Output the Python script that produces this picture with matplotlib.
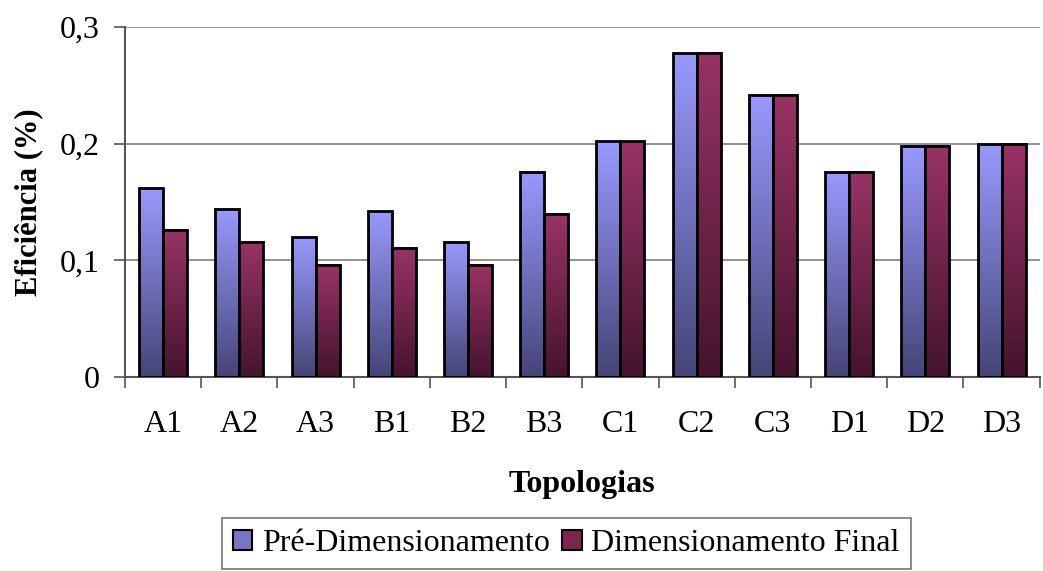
import numpy as np
import matplotlib.pyplot as plt
from matplotlib.colors import LinearSegmentedColormap
from matplotlib.patches import Patch

plt.rcParams['font.family'] = ['Liberation Serif', 'DejaVu Serif']

topologias = ['A1', 'A2', 'A3', 'B1', 'B2', 'B3', 'C1', 'C2', 'C3', 'D1', 'D2', 'D3']
pre_dim = [0.162, 0.144, 0.120, 0.142, 0.116, 0.176, 0.202, 0.278, 0.242, 0.176, 0.198, 0.200]
dim_final = [0.126, 0.116, 0.096, 0.111, 0.096, 0.140, 0.202, 0.278, 0.242, 0.176, 0.198, 0.200]

cmap_blue = LinearSegmentedColormap.from_list('b', ['#454577', '#9999FF'])
cmap_red = LinearSegmentedColormap.from_list('r', ['#45142D', '#993366'])

fig = plt.figure(figsize=(10.43, 5.71), dpi=100)
ax = fig.add_axes([0.1198, 0.3397, 0.877, 0.6130])

x = np.arange(len(topologias))
w = 0.315
grad = np.linspace(0, 1, 256).reshape(-1, 1)


def grad_bars(xpos, vals, cmap):
    bars = ax.bar(xpos, vals, w, facecolor='none', edgecolor='black', linewidth=2.0, zorder=3)
    for b in bars:
        x0, y0 = b.get_x(), b.get_y()
        ax.imshow(grad, cmap=cmap, origin='lower', aspect='auto',
                  extent=[x0, x0 + b.get_width(), y0, y0 + b.get_height()], zorder=2)


grad_bars(x - w / 2, pre_dim, cmap_blue)
grad_bars(x + w / 2, dim_final, cmap_red)

ax.set_xlim(-0.5, len(topologias) - 0.5)
ax.set_ylim(0, 0.3)
ax.set_yticks([0, 0.1, 0.2, 0.3])
ax.set_yticklabels(['0', '0,1', '0,2', '0,3'])
ax.set_xticks(x)
ax.set_xticklabels(topologias)
ax.set_xticks(np.arange(-0.5, len(topologias)), minor=True)
ax.tick_params(axis='x', which='major', length=0, labelsize=23, pad=24)
ax.tick_params(axis='x', which='minor', length=8, width=1.2, color='#555555')
ax.tick_params(axis='y', length=8, width=1.2, color='#555555', labelsize=23, pad=10)
ax.grid(axis='y', color='#7f7f7f', linewidth=1.2, zorder=0)
ax.set_axisbelow(True)

for s in ['top', 'right']:
    ax.spines[s].set_visible(False)
for s in ['left', 'bottom']:
    ax.spines[s].set_color('#555555')
    ax.spines[s].set_linewidth(1.5)

ax.set_ylabel('Eficiência (%)', fontsize=22, fontweight='bold', labelpad=12)
ax.set_xlabel('Topologias', fontsize=23, fontweight='bold', labelpad=22)

handles = [Patch(facecolor='#7777C4', edgecolor='black', linewidth=1.5, label='Pré-Dimensionamento'),
           Patch(facecolor='#7A2650', edgecolor='black', linewidth=1.5, label='Dimensionamento Final')]
leg = fig.legend(handles=handles, loc='upper center', bbox_to_anchor=(0.543, 0.093), ncol=2,
                 fontsize=23, frameon=True, fancybox=False, edgecolor='#555555',
                 handlelength=0.6, handleheight=0.6, handletextpad=0.3, columnspacing=0.4,
                 borderpad=0.35, borderaxespad=0)
leg.get_frame().set_linewidth(1.2)

fig.savefig('out.png', dpi=100)
